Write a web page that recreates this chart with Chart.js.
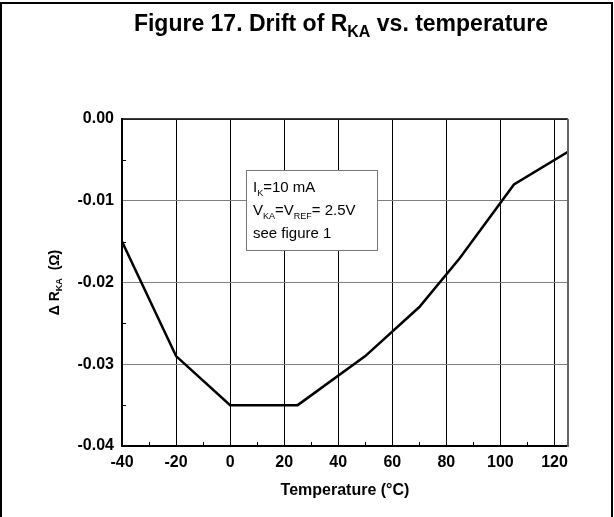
<!DOCTYPE html>
<html>
<head>
<meta charset="utf-8">
<script src="https://cdn.jsdelivr.net/npm/chart.js@4.4.0/dist/chart.umd.min.js"></script>
<style>
  html, body { margin:0; padding:0; background:#fff; }
  #wrap { width:614px; height:517px; position:relative; }
</style>
</head>
<body>
<div id="wrap"><canvas id="driftChart"></canvas></div>
<script>
// Data
const temps = [-40, -20, 0, 25, 50, 70, 85, 105, 125];
const drift = [-0.015, -0.029, -0.035, -0.035, -0.029, -0.023, -0.017, -0.008, -0.004];
const xTicks = [-40, -20, 0, 20, 40, 60, 80, 100, 120];
const xMinor = [-30, -10, 10, 30, 50, 70, 90, 110];
const yTicks = [0, -0.01, -0.02, -0.03, -0.04];
const yMinor = [-0.005, -0.015, -0.025, -0.035];
const noteLines = [['I', 'K', '=10 mA'], ['V', 'KA', '=V', 'REF', '= 2.5V'], ['see figure 1']];

const FONT = 'Arial, "Liberation Sans", sans-serif';

// text with subscripts: parts alternate normal / subscript
function drawParts(ctx, parts, x, y, size, subSize, weight, drop, measureOnly) {
  let w = 0;
  parts.forEach((p, i) => {
    const sub = i % 2 === 1;
    ctx.font = weight + ' ' + (sub ? subSize : size) + 'px ' + FONT;
    if (!measureOnly) ctx.fillText(p, x + w, sub ? y + drop : y);
    w += ctx.measureText(p).width;
  });
  return w;
}

const decor = {
  id: 'decor',
  afterDraw(chart) {
    const ctx = chart.ctx;
    const a = chart.chartArea;
    const xs = chart.scales.x, ys = chart.scales.y;
    ctx.save();

    // outer frame
    ctx.strokeStyle = '#000';
    ctx.lineWidth = 2;
    ctx.beginPath();
    ctx.moveTo(1, 517); ctx.lineTo(1, 3); ctx.lineTo(612, 3); ctx.lineTo(612, 517);
    ctx.stroke();

    // plot top / right border
    ctx.lineWidth = 1.5;
    ctx.strokeStyle = '#000';
    ctx.beginPath(); ctx.moveTo(a.left, a.top); ctx.lineTo(a.right, a.top); ctx.stroke();
    ctx.strokeStyle = '#666';
    ctx.lineWidth = 2;
    ctx.beginPath(); ctx.moveTo(a.right, a.top); ctx.lineTo(a.right, a.bottom + 1); ctx.stroke();

    // minor ticks, pointing inward
    ctx.strokeStyle = '#000';
    ctx.lineWidth = 1;
    xMinor.forEach(v => {
      const px = Math.round(xs.getPixelForValue(v)) + 0.5;
      ctx.beginPath(); ctx.moveTo(px, a.bottom); ctx.lineTo(px, a.bottom - 4); ctx.stroke();
    });
    yMinor.forEach(v => {
      const py = Math.round(ys.getPixelForValue(v)) + 0.5;
      ctx.beginPath(); ctx.moveTo(a.left, py); ctx.lineTo(a.left + 4, py); ctx.stroke();
    });

    // note box
    ctx.fillStyle = '#fff';
    ctx.fillRect(246, 170, 132, 81);
    ctx.strokeStyle = '#777';
    ctx.lineWidth = 1;
    ctx.strokeRect(246.5, 170.5, 131, 80);
    ctx.fillStyle = '#000';
    ctx.textBaseline = 'alphabetic';
    ctx.textAlign = 'left';
    noteLines.forEach((parts, i) => {
      drawParts(ctx, parts, 253, 192 + i * 23, 15, 9, 'normal', 4);
    });

    // title
    const tParts = ['Figure 17. Drift of R', 'KA', ' vs. temperature'];
    const tw = drawParts(ctx, tParts, 0, 0, 23, 16, 'bold', 6, true);
    drawParts(ctx, tParts, 341 - tw / 2, 31, 23, 16, 'bold', 6);

    // y axis title, rotated
    const yParts = ['\u0394 R', 'KA', '  (\u03A9)'];
    ctx.translate(59, (a.top + a.bottom) / 2);
    ctx.rotate(-Math.PI / 2);
    const yw = drawParts(ctx, yParts, 0, 0, 14, 9, 'bold', 3, true);
    drawParts(ctx, yParts, -yw / 2, 0, 14, 9, 'bold', 3);
    ctx.restore();
  }
};

new Chart(document.getElementById('driftChart').getContext('2d'), {
  type: 'line',
  data: {
    datasets: [{
      data: temps.map((t, i) => ({ x: t, y: drift[i] })),
      borderColor: '#000',
      borderWidth: 2.5,
      pointRadius: 0,
      tension: 0,
      fill: false
    }]
  },
  options: {
    responsive: true,
    maintainAspectRatio: false,
    animation: false,
    layout: { padding: { left: 0, top: 119, right: 46, bottom: 0 } },
    plugins: { legend: { display: false }, tooltip: { enabled: false }, title: { display: false } },
    scales: {
      x: {
        type: 'linear', min: -40, max: 125,
        afterBuildTicks: s => { s.ticks = xTicks.map(v => ({ value: v })); },
        afterFit: s => { s.height = 71; },
        grid: { color: '#000', lineWidth: 1, drawTicks: false },
        border: { color: '#000', width: 2 },
        ticks: { color: '#000', padding: 7, font: { family: FONT, size: 16, weight: 'bold' } },
        title: { display: true, text: 'Temperature (\u00B0C)', color: '#000', padding: { top: 4, bottom: 17 },
                 font: { family: FONT, size: 16, weight: 'bold' } }
      },
      y: {
        type: 'linear', min: -0.04, max: 0,
        afterBuildTicks: s => { s.ticks = yTicks.map(v => ({ value: v })); },
        afterFit: s => { s.width = 122; },
        grid: { color: '#808080', lineWidth: 1, drawTicks: false },
        border: { color: '#000', width: 2 },
        ticks: { color: '#000', padding: 8, font: { family: FONT, size: 16, weight: 'bold' },
                 callback: v => v.toFixed(2) }
      }
    }
  },
  plugins: [decor]
});
</script>
</body>
</html>
